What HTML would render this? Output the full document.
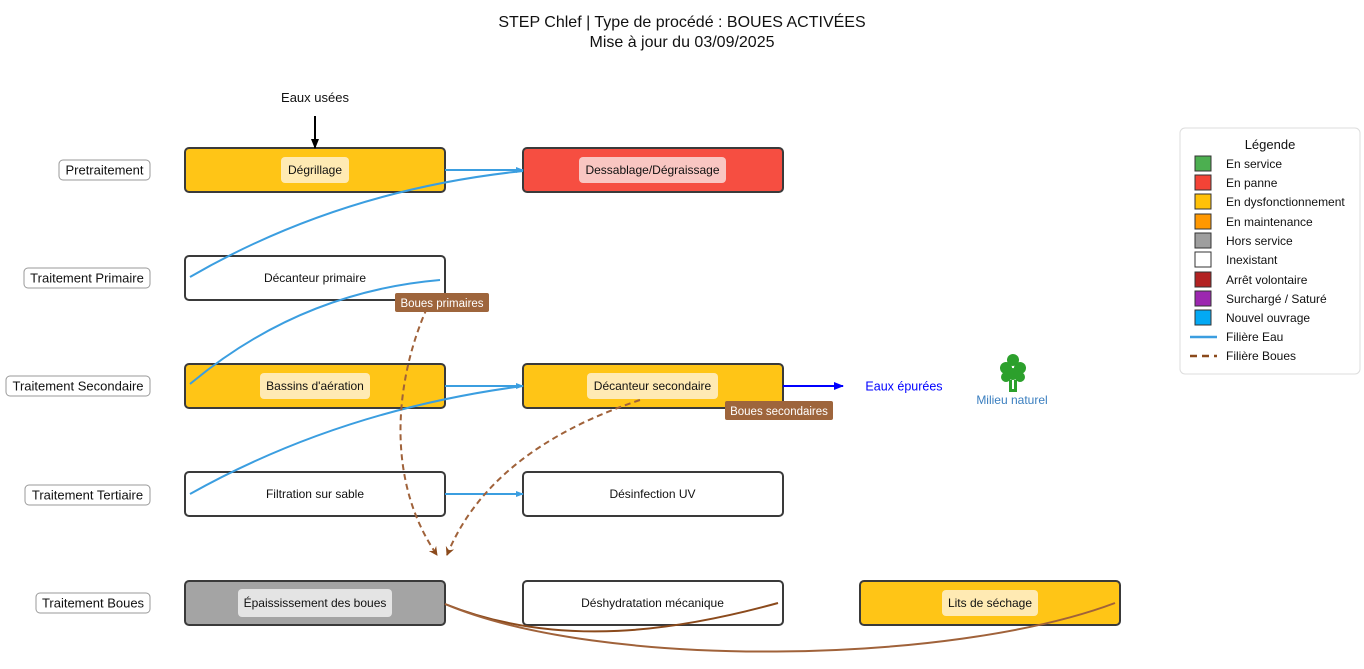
<!DOCTYPE html>
<html><head><meta charset="utf-8"><style>
body{margin:0;background:#fff;}
svg text{font-family:"Liberation Sans",sans-serif;}
</style></head><body>
<svg width="1364" height="664" viewBox="0 0 1364 664" xmlns="http://www.w3.org/2000/svg">
<defs>
<marker id="ab" markerWidth="8" markerHeight="8" refX="7" refY="4" orient="auto" markerUnits="userSpaceOnUse"><path d="M0,1 L8,4 L0,7 z" fill="#3b9ee0"/></marker>
<marker id="ak" markerWidth="10" markerHeight="10" refX="9" refY="5" orient="auto" markerUnits="userSpaceOnUse"><path d="M0,1 L10,5 L0,9 z" fill="#000"/></marker>
<marker id="au" markerWidth="10" markerHeight="10" refX="9" refY="5" orient="auto" markerUnits="userSpaceOnUse"><path d="M0,1 L10,5 L0,9 z" fill="#0000ff"/></marker>
<marker id="ar" markerWidth="9" markerHeight="9" refX="8" refY="4.5" orient="auto" markerUnits="userSpaceOnUse"><path d="M0,0 L9,4.5 L0,9 L3,4.5 z" fill="#8b4a1c"/></marker>
</defs>
<g text-anchor="middle" font-size="16" fill="#111">
<text x="682" y="27">STEP Chlef | Type de procédé : BOUES ACTIVÉES</text>
<text x="682" y="47">Mise à jour du 03/09/2025</text>
</g>
<g font-size="13" text-anchor="middle" fill="#111">
<rect x="59" y="160" width="91" height="20" rx="4" fill="#fff" stroke="#999"/><text x="104.5" y="174.5">Pretraitement</text>
<rect x="24" y="268" width="126" height="20" rx="4" fill="#fff" stroke="#999"/><text x="87" y="282.5">Traitement Primaire</text>
<rect x="6" y="376" width="144" height="20" rx="4" fill="#fff" stroke="#999"/><text x="78" y="390.5">Traitement Secondaire</text>
<rect x="25" y="485" width="125" height="20" rx="4" fill="#fff" stroke="#999"/><text x="87.5" y="499.5">Traitement Tertiaire</text>
<rect x="36" y="593" width="114" height="20" rx="4" fill="#fff" stroke="#999"/><text x="93" y="607.5">Traitement Boues</text>
</g>
<g stroke="#3a3a3a" stroke-width="2">
<rect x="185" y="148" width="260" height="44" rx="4" fill="#ffc516"/>
<rect x="523" y="148" width="260" height="44" rx="4" fill="#f64e41"/>
<rect x="185" y="256" width="260" height="44" rx="4" fill="#fff"/>
<rect x="185" y="364" width="260" height="44" rx="4" fill="#ffc516"/>
<rect x="523" y="364" width="260" height="44" rx="4" fill="#ffc516"/>
<rect x="185" y="472" width="260" height="44" rx="4" fill="#fff"/>
<rect x="523" y="472" width="260" height="44" rx="4" fill="#fff"/>
<rect x="185" y="581" width="260" height="44" rx="4" fill="#a4a4a4"/>
<rect x="523" y="581" width="260" height="44" rx="4" fill="#fff"/>
<rect x="860" y="581" width="260" height="44" rx="4" fill="#ffc516"/>
</g>
<g fill="none" stroke="#3b9ee0" stroke-width="2">
<line x1="445" y1="170" x2="523" y2="170" marker-end="url(#ab)"/>
<path d="M523,171 Q340,190 190,277"/>
<path d="M440,280 Q300,292 190,384"/>
<line x1="445" y1="386" x2="523" y2="386" marker-end="url(#ab)"/>
<path d="M523,386 Q340,410 190,494"/>
<line x1="445" y1="494" x2="523" y2="494" marker-end="url(#ab)"/>
</g>
<line x1="783" y1="386" x2="843" y2="386" stroke="#0000ff" stroke-width="2" marker-end="url(#au)"/>
<line x1="315" y1="116" x2="315" y2="148" stroke="#000" stroke-width="2" marker-end="url(#ak)"/>
<text x="315" y="102" font-size="13" text-anchor="middle" fill="#111">Eaux usées</text>
<g fill="none" stroke="#a0623a" stroke-width="2">
<path d="M427,308 C395,380 385,480 437,555" stroke-dasharray="6,4" marker-end="url(#ar)"/>
<path d="M640,400 Q490,450 447,555" stroke-dasharray="6,4" marker-end="url(#ar)"/>
<path d="M445,604 C560,650 680,630 778,603" stroke="#8b4a1c"/>
<path d="M445,604 C600,670 950,665 1115,603" stroke="#a0623a"/>
</g>
<g font-size="12" text-anchor="middle" fill="#111">
<rect x="281" y="157" width="68" height="26" rx="4" fill="#ffeab3"/><text x="315" y="174">Dégrillage</text>
<rect x="579" y="157" width="147" height="26" rx="4" fill="#f9c6c2"/><text x="652.5" y="174">Dessablage/Dégraissage</text>
<text x="315" y="282">Décanteur primaire</text>
<rect x="260" y="373" width="110" height="26" rx="4" fill="#ffeab3"/><text x="315" y="390">Bassins d'aération</text>
<rect x="587" y="373" width="131" height="26" rx="4" fill="#ffeab3"/><text x="652.5" y="390">Décanteur secondaire</text>
<text x="315" y="498">Filtration sur sable</text>
<text x="652.5" y="498">Désinfection UV</text>
<rect x="238" y="589" width="154" height="28" rx="4" fill="#e4e4e4"/><text x="315" y="607">Épaississement des boues</text>
<text x="652.5" y="607">Déshydratation mécanique</text>
<rect x="942" y="590" width="96" height="26" rx="4" fill="#ffeab3"/><text x="990" y="607">Lits de séchage</text>
</g>
<g font-size="11.5" text-anchor="middle" fill="#fff">
<rect x="395" y="293" width="94" height="19" rx="2" fill="#9e653c"/><text x="442" y="307">Boues primaires</text>
<rect x="725" y="401" width="108" height="19" rx="2" fill="#9e653c"/><text x="779" y="415">Boues secondaires</text>
</g>
<text x="904" y="390.5" font-size="12.5" text-anchor="middle" fill="#0000ff">Eaux épurées</text>
<g fill="#2ca02c">
<circle cx="1013" cy="360" r="6"/><circle cx="1006" cy="368" r="6"/><circle cx="1020" cy="368" r="6"/><circle cx="1006" cy="377" r="5"/><circle cx="1020" cy="377" r="5"/><circle cx="1013" cy="374" r="6"/>
<rect x="1009" y="380" width="3" height="12"/><rect x="1014" y="380" width="3" height="12"/><rect x="1009" y="389" width="8" height="3"/>
</g>
<text x="1012" y="404" font-size="12" text-anchor="middle" fill="#3a7ebf">Milieu naturel</text>
<rect x="1180" y="128" width="180" height="246" rx="5" fill="#fff" stroke="#ddd"/>
<text x="1270" y="149" font-size="13" text-anchor="middle" fill="#111">Légende</text>
<g stroke="#333" stroke-width="1">
<rect x="1195" y="156" width="16" height="15" fill="#4caf50"/>
<rect x="1195" y="175" width="16" height="15" fill="#f44336"/>
<rect x="1195" y="194" width="16" height="15" fill="#ffc107"/>
<rect x="1195" y="214" width="16" height="15" fill="#ff9800"/>
<rect x="1195" y="233" width="16" height="15" fill="#9e9e9e"/>
<rect x="1195" y="252" width="16" height="15" fill="#fff"/>
<rect x="1195" y="272" width="16" height="15" fill="#b22222"/>
<rect x="1195" y="291" width="16" height="15" fill="#9c27b0"/>
<rect x="1195" y="310" width="16" height="15" fill="#03a9f4"/>
</g>
<line x1="1190" y1="337" x2="1217" y2="337" stroke="#3b9ee0" stroke-width="2.5"/>
<line x1="1190" y1="356" x2="1217" y2="356" stroke="#8b4a1c" stroke-width="2.5" stroke-dasharray="7,5"/>
<g font-size="12" fill="#111">
<text x="1226" y="168">En service</text>
<text x="1226" y="187">En panne</text>
<text x="1226" y="206">En dysfonctionnement</text>
<text x="1226" y="226">En maintenance</text>
<text x="1226" y="245">Hors service</text>
<text x="1226" y="264">Inexistant</text>
<text x="1226" y="284">Arrêt volontaire</text>
<text x="1226" y="303">Surchargé / Saturé</text>
<text x="1226" y="322">Nouvel ouvrage</text>
<text x="1226" y="341">Filière Eau</text>
<text x="1226" y="360">Filière Boues</text>
</g>
</svg>
</body></html>
